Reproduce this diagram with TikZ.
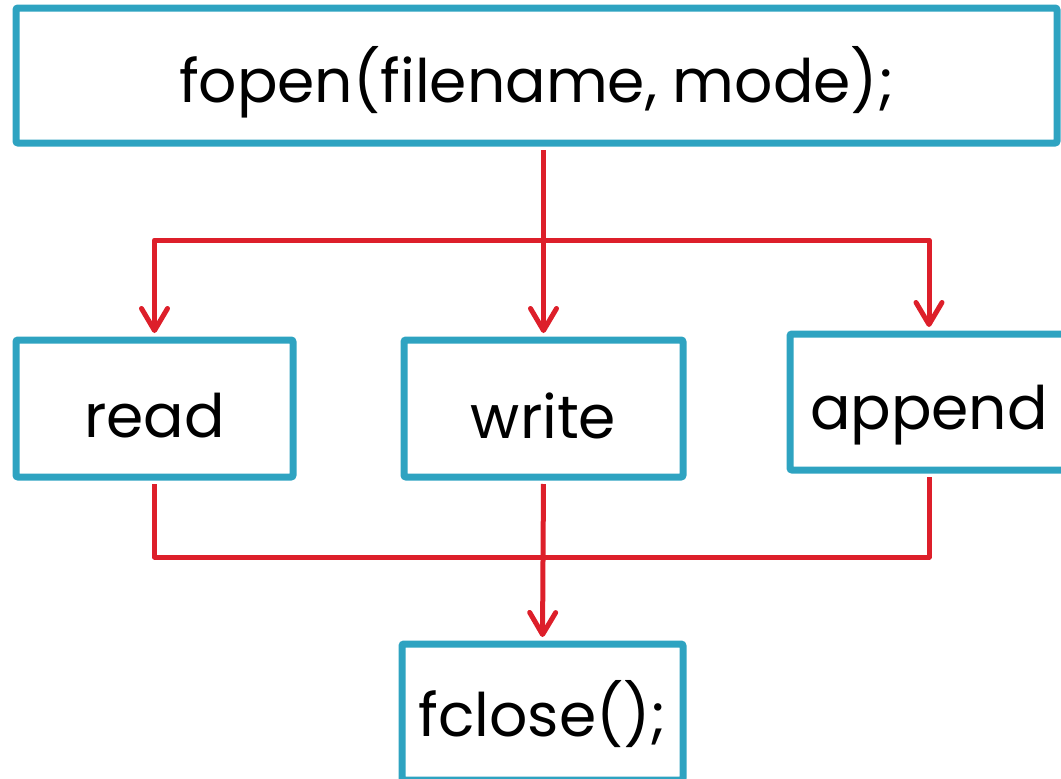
\documentclass[tikz,border=0pt]{standalone}
\usepackage{fontspec}
\setmainfont{Poppins}
\usetikzlibrary{arrows.meta}
\definecolor{boxteal}{RGB}{46,163,193}
\definecolor{linered}{RGB}{221,31,42}
\newcommand{\lowr}[2]{\raisebox{-#1pt}[\height][\depth]{#2}}
\begin{document}
\begin{tikzpicture}[x=1pt,y=-1pt,
  box/.style={draw=boxteal,line width=7pt,rounded corners=2pt,fill=white,
    inner sep=0pt,font=\fontsize{60}{64}\selectfont},
  conn/.style={draw=linered,line width=5pt,line join=round},
  arr/.style={conn,-{Straight Barb[length=22pt,width=26pt,line cap=round,line join=round]},shorten >=3.5pt}]
\useasboundingbox (0,0) rectangle (1061,779);
\node[box,minimum width=1041pt,minimum height=135pt] (fopen) at (536.5,75.5) {\lowr{7}{fopen(filename, mode);}};
\node[box,minimum width=277pt,minimum height=137pt] (read) at (154.5,408.5) {\lowr{7}{read}};
\node[box,minimum width=279pt,minimum height=137pt] (write) at (543.5,408.5) {\lowr{7}{write}};
\node[box,minimum width=278pt,minimum height=136pt] (append) at (929,402) {\lowr{13}{append}};
\node[box,minimum width=281pt,minimum height=136pt] (fclose) at (542.5,712) {\lowr{2}{fclose();}};
\coordinate (jt) at (543.5,240);
\coordinate (jb) at (543.5,557);
\draw[conn,shorten <=3.5pt] (jt |- fopen.south) -- (jt);
\draw[arr] (jt) -| (read.north);
\draw[arr] (jt) -- (write.north);
\draw[arr] (jt) -| (append.north);
\draw[conn,shorten <=3.5pt] (read.south) |- (jb);
\draw[conn,shorten <=3.5pt] (append.south) |- (jb);
\draw[arr,shorten <=3.5pt] (write.south) -- (fclose.north);
\end{tikzpicture}
\end{document}
